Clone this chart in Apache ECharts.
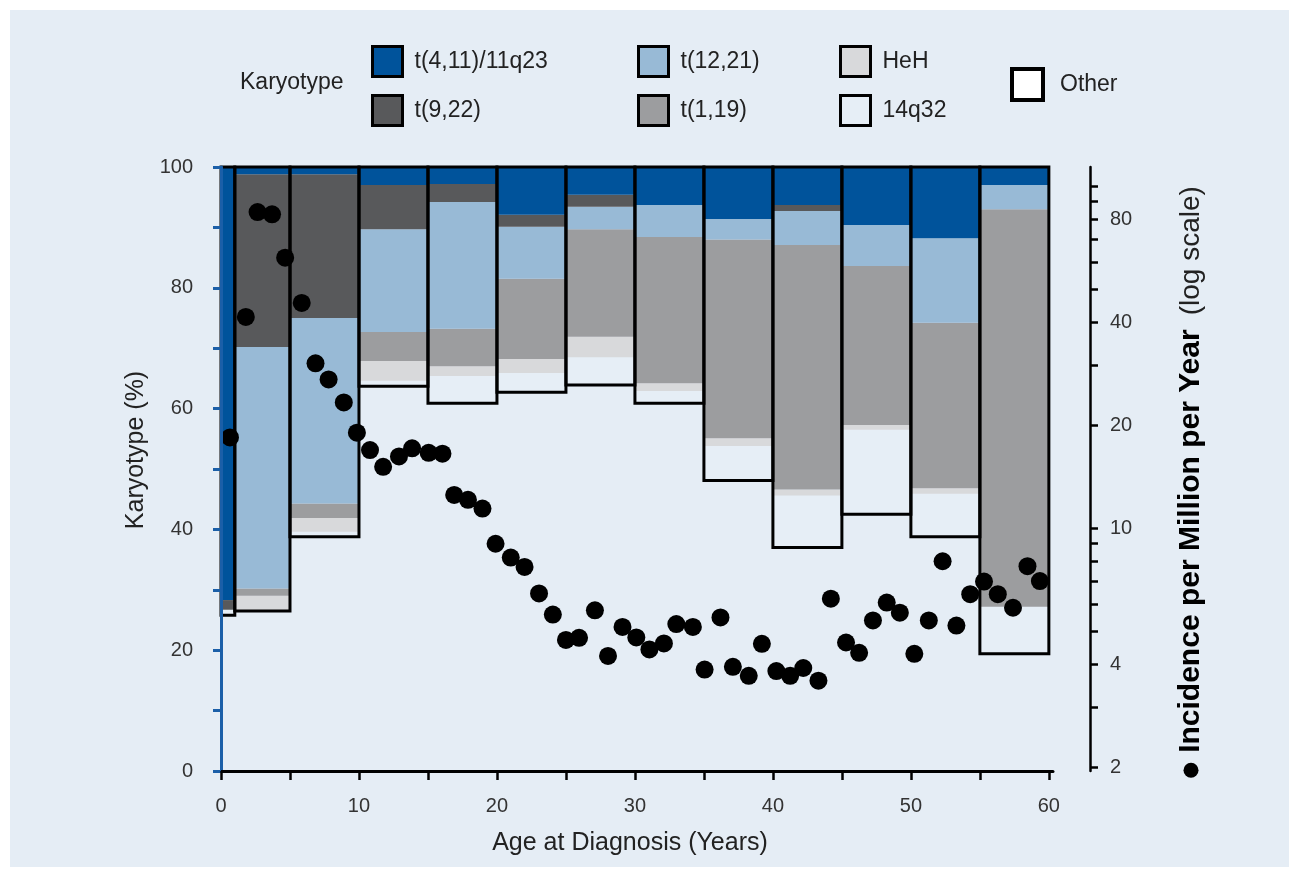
<!DOCTYPE html>
<html><head><meta charset="utf-8">
<script src="https://cdn.jsdelivr.net/npm/echarts@6/dist/echarts.min.js"></script>
<style>html,body{margin:0;padding:0;background:#fff}#c{width:1299px;height:877px}</style>
</head><body><div id="c"></div>
<script>
// ---- Age bins (years) ----
const binStart = [0, 1, 5, 10, 15, 20, 25, 30, 35, 40, 45, 50, 55];
const binEnd   = [1, 5, 10, 15, 20, 25, 30, 35, 40, 45, 50, 55, 60];
// ---- Karyotype percentages per bin ----
const t411  = [71.7, 1.2, 1.2, 3.0, 2.8, 7.9, 4.6, 6.3, 8.6, 6.3, 9.6, 11.8, 3.0];
const t922  = [1.6, 28.6, 23.8, 7.3, 3.0, 2.0, 2.0, 0, 0, 1.0, 0, 0, 0];
const t1221 = [0, 40.0, 30.7, 17.0, 21.0, 8.6, 3.7, 5.3, 3.4, 5.6, 6.8, 14.0, 4.0];
const t119  = [0, 1.2, 2.4, 4.8, 6.2, 13.3, 17.8, 24.2, 32.9, 40.5, 26.3, 27.4, 65.8];
const heh   = [0, 2.4, 2.3, 3.3, 1.6, 2.3, 3.4, 1.3, 1.3, 1.0, 0.8, 0.9, 0];
const q1432 = [0.9, 0.1, 0.8, 0.9, 4.5, 3.2, 4.6, 2.0, 5.7, 8.6, 14.0, 7.1, 7.8];
const other = [25.8, 26.5, 38.8, 63.7, 60.9, 62.7, 63.9, 60.9, 48.1, 37.0, 42.5, 38.8, 19.4];
// ---- Incidence per million per year by age ----
const ages = [0.65,1.8,2.65,3.7,4.65,5.85,6.85,7.8,8.9,9.85,10.8,11.75,12.9,13.85,15.05,16.05,16.9,17.9,18.95,19.9,21.0,22.0,23.05,24.05,25.0,25.95,27.1,28.05,29.1,30.1,31.05,32.1,33.0,34.2,35.05,36.2,37.1,38.25,39.2,40.25,41.25,42.2,43.3,44.2,45.3,46.25,47.25,48.25,49.2,50.25,51.3,52.3,53.3,54.3,55.3,56.3,57.4,58.45,59.35];
const incidence = [18.4,41.4,83.9,82.6,61.7,45.5,30.3,27.2,23.3,19.0,16.9,15.1,16.2,17.1,16.6,16.5,12.5,12.1,11.4,9.0,8.2,7.7,6.44,5.59,4.71,4.78,5.75,4.23,5.14,4.79,4.42,4.60,5.24,5.14,3.86,5.48,3.93,3.70,4.59,3.82,3.70,3.90,3.58,6.22,4.63,4.32,5.37,6.06,5.66,4.29,5.37,8.0,5.19,6.41,6.98,6.41,5.85,7.74,7.00];
// ---- Tick labels ----
const xTicks = [0,5,10,15,20,25,30,35,40,45,50,55,60];
const xLabels = [0,10,20,30,40,50,60];
const leftLabels = [0,20,40,60,80,100];
const rightTicks = [2,3,4,5,6,7,8,9,10,20,30,40,50,60,70,80,90,100];
const rightLabels = [2,4,10,20,40,80];

const FONT = '"Liberation Sans", Arial, Helvetica, sans-serif';
const cats = [
  {name: 'Other', values: other, color: '#ffffff', draw: false},
  {name: '14q32', values: q1432, color: '#e6eef6', draw: true},
  {name: 'HeH', values: heh, color: '#d8d9db', draw: true},
  {name: 't(1,19)', values: t119, color: '#9c9d9f', draw: true},
  {name: 't(12,21)', values: t1221, color: '#98bad6', draw: true},
  {name: 't(9,22)', values: t922, color: '#58595b', draw: true},
  {name: 't(4,11)/11q23', values: t411, color: '#00539b', draw: true}
];

function rectItem(draw) {
  return function (params, api) {
    const x0 = api.value(0), x1 = api.value(1), y0 = api.value(2), y1 = api.value(3);
    if (!(y1 - y0 > 0)) return null;
    const a = api.coord([x0, y1]), b = api.coord([x1, y0]);
    return {type: 'rect', shape: {x: a[0], y: a[1], width: b[0] - a[0], height: b[1] - a[1]},
      style: {fill: draw ? api.visual('color') : 'rgba(0,0,0,0)'}};
  };
}
function boxItem(params, api) {
  const a = api.coord([api.value(0), api.value(3)]), b = api.coord([api.value(1), api.value(2)]);
  return {type: 'rect', shape: {x: a[0], y: a[1], width: b[0] - a[0], height: b[1] - a[1]},
    style: {fill: 'none', stroke: '#000', lineWidth: 3}};
}

const series = [];
const base = binStart.map(() => 0);
cats.forEach(c => {
  const data = binStart.map((s, i) => {
    const d = [s, binEnd[i], base[i], base[i] + c.values[i]];
    base[i] += c.values[i];
    return d;
  });
  series.push({type: 'custom', name: c.name, xAxisIndex: 0, yAxisIndex: 0, z: 2,
    itemStyle: {color: c.color}, encode: {x: [0, 1], y: [2, 3]},
    renderItem: rectItem(c.draw), data: data, silent: true});
});
series.push({type: 'custom', name: 'box', z: 3, xAxisIndex: 0, yAxisIndex: 0,
  encode: {x: [0, 1], y: [2, 3]}, renderItem: boxItem, silent: true,
  data: binStart.map((s, i) => [s, binEnd[i], other[i], 100])});
series.push({type: 'scatter', name: 'Incidence', xAxisIndex: 0, yAxisIndex: 1, z: 5,
  symbol: 'circle', symbolSize: 18, itemStyle: {color: '#000', opacity: 1},
  data: ages.map((a, i) => [a, incidence[i]])});

function leg(left, top, names, bw, size, pad) {
  return {left: left, top: top, orient: 'vertical', padding: 0, itemGap: 16,
    itemWidth: size || 30, itemHeight: size || 30, icon: 'rect', selectedMode: false,
    itemStyle: {borderColor: '#000', borderWidth: bw || 3},
    textStyle: {fontSize: 23, color: '#222', fontFamily: FONT, padding: [0, 0, 0, pad || 7]},
    data: names};
}

const option = {
  backgroundColor: '#ffffff',
  animation: false,
  graphic: [{type: 'rect', z: -10, silent: true, shape: {x: 10, y: 10, width: 1279, height: 857},
    style: {fill: '#e5edf5'}}],
  title: {text: 'Karyotype', left: 240, top: 71, padding: 0,
    textStyle: {fontSize: 23, fontWeight: 'normal', color: '#222', fontFamily: FONT}},
  legend: [
    leg(371, 45, ['t(4,11)/11q23', 't(9,22)']),
    leg(637, 45, ['t(12,21)', 't(1,19)']),
    leg(839, 45, ['HeH', '14q32']),
    leg(1010, 67, ['Other'], 4, 31, 12)
  ],
  grid: {left: 221, top: 167, width: 832, height: 604, containLabel: false},
  xAxis: {type: 'value', min: 0, max: 60.3, z: 10,
    name: 'Age at Diagnosis (Years)', nameLocation: 'middle', nameGap: 60,
    nameTextStyle: {fontSize: 25, color: '#222', fontFamily: FONT, padding: [0, 14, 0, 0]},
    axisLine: {show: true, lineStyle: {color: '#000', width: 3}},
    axisTick: {show: true, length: 9, lineStyle: {color: '#000', width: 2.5}, customValues: xTicks},
    axisLabel: {customValues: xLabels, fontSize: 20, color: '#333', fontFamily: FONT, margin: 25},
    splitLine: {show: false}},
  yAxis: [
    {type: 'value', min: 0, max: 100, interval: 10, position: 'left', z: 10,
      name: 'Karyotype (%)', nameLocation: 'middle', nameGap: 66,
      nameTextStyle: {fontSize: 25, color: '#222', fontFamily: FONT, padding: [0, 0, 0, 38]},
      axisLine: {show: true, lineStyle: {color: '#1b5fa8', width: 3}},
      axisTick: {show: true, length: 8, lineStyle: {color: '#1b5fa8', width: 3}},
      axisLabel: {customValues: leftLabels, fontSize: 20, color: '#333', fontFamily: FONT, margin: 28},
      splitLine: {show: false}},
    {type: 'log', logBase: 10, min: 1.95, max: 113.6, position: 'right', offset: 37, z: 10,
      name: '{dot| }{g1| }{b|Incidence per Million per Year}{g2| }{n|(log scale)}',
      nameLocation: 'middle', nameGap: 86,
      nameTextStyle: {fontFamily: FONT, padding: [0, 26, 0, 0],
        rich: {dot: {width: 15, height: 15, backgroundColor: '#000', borderRadius: 8},
          g1: {width: 10, fontSize: 10},
          g2: {width: 14, fontSize: 10},
          b: {fontSize: 30, fontWeight: 'bold', color: '#000', fontFamily: FONT},
          n: {fontSize: 28, color: '#222', fontFamily: FONT}}},
      axisLine: {show: true, lineStyle: {color: '#000', width: 2.5}},
      axisTick: {show: true, length: 8, lineStyle: {color: '#000', width: 2.5}, customValues: rightTicks},
      axisLabel: {customValues: rightLabels, fontSize: 20, color: '#333', fontFamily: FONT, margin: 20},
      minorTick: {show: false}, splitLine: {show: false}}
  ],
  series: series
};
const chart = echarts.init(document.getElementById('c'));
chart.setOption(option);
</script>
</body></html>
